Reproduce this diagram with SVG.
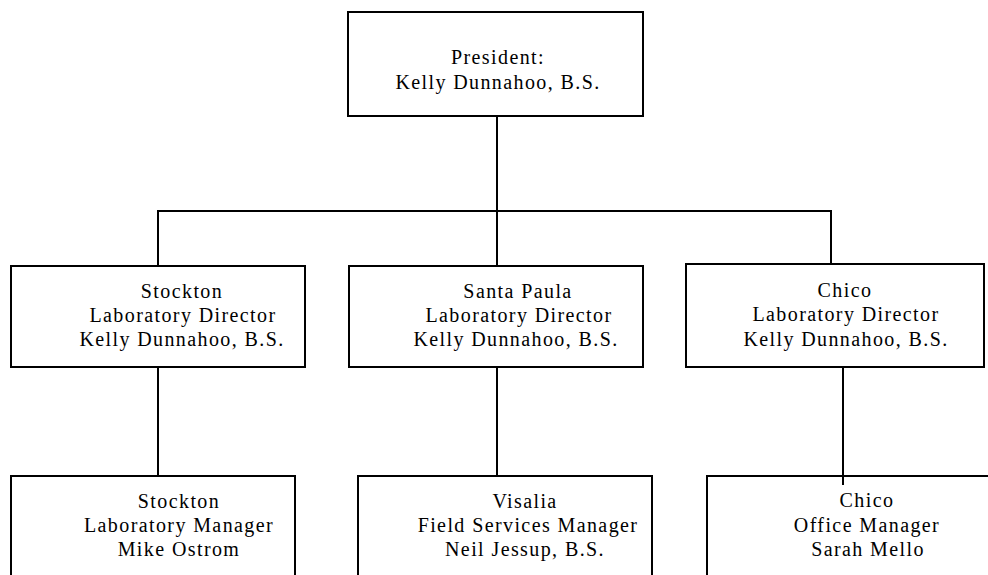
<svg xmlns="http://www.w3.org/2000/svg" width="988" height="575" viewBox="0 0 988 575">
<style>
  .box { fill: #ffffff; stroke: #000000; stroke-width: 2; }
  .lbl { font-family: "Liberation Serif", "Times New Roman", serif; font-size: 20px; letter-spacing: 1.4px; fill: #000000; text-anchor: middle; }
  .conn line { stroke: #000000; stroke-width: 2; }
</style>
<rect x="0" y="0" width="988" height="575" fill="#ffffff"/>

<g id="president">
  <rect class="box" x="348" y="12" width="295" height="104"/>
  <text class="lbl" x="498" y="64">President:</text>
  <text class="lbl" x="498" y="89">Kelly Dunnahoo, B.S.</text>
</g>

<g id="stockton-director">
  <rect class="box" x="11" y="266" width="294" height="101"/>
  <text class="lbl" x="182" y="298">Stockton</text>
  <text class="lbl" x="183" y="322">Laboratory Director</text>
  <text class="lbl" x="182" y="346">Kelly Dunnahoo, B.S.</text>
</g>

<g id="santapaula-director">
  <rect class="box" x="349" y="266" width="294" height="101"/>
  <text class="lbl" x="518" y="298">Santa Paula</text>
  <text class="lbl" x="519" y="322">Laboratory Director</text>
  <text class="lbl" x="516" y="346">Kelly Dunnahoo, B.S.</text>
</g>

<g id="chico-director">
  <rect class="box" x="686" y="264" width="298" height="103"/>
  <text class="lbl" x="845" y="297">Chico</text>
  <text class="lbl" x="846" y="321">Laboratory Director</text>
  <text class="lbl" x="846" y="346">Kelly Dunnahoo, B.S.</text>
</g>

<g id="stockton-manager">
  <rect class="box" x="11" y="476" width="284" height="120"/>
  <text class="lbl" x="179" y="508">Stockton</text>
  <text class="lbl" x="179" y="532">Laboratory Manager</text>
  <text class="lbl" x="179" y="556">Mike Ostrom</text>
</g>

<g id="visalia-manager">
  <rect class="box" x="358" y="476" width="294" height="120"/>
  <text class="lbl" x="525" y="508">Visalia</text>
  <text class="lbl" x="528" y="532">Field Services Manager</text>
  <text class="lbl" x="525" y="556">Neil Jessup, B.S.</text>
</g>

<g id="chico-manager">
  <rect class="box" x="707" y="476" width="300" height="120"/>
  <text class="lbl" x="867" y="507">Chico</text>
  <text class="lbl" x="867" y="532">Office Manager</text>
  <text class="lbl" x="868" y="556">Sarah Mello</text>
</g>

<g id="connectors" class="conn">
  <line x1="497" y1="117" x2="497" y2="211"/>
  <line x1="157" y1="211" x2="832" y2="211"/>
  <line x1="158" y1="211" x2="158" y2="265"/>
  <line x1="497" y1="211" x2="497" y2="265"/>
  <line x1="831" y1="211" x2="831" y2="263"/>
  <line x1="158" y1="368" x2="158" y2="475"/>
  <line x1="497" y1="368" x2="497" y2="475"/>
  <line x1="843" y1="368" x2="843" y2="485"/>
</g>
</svg>
